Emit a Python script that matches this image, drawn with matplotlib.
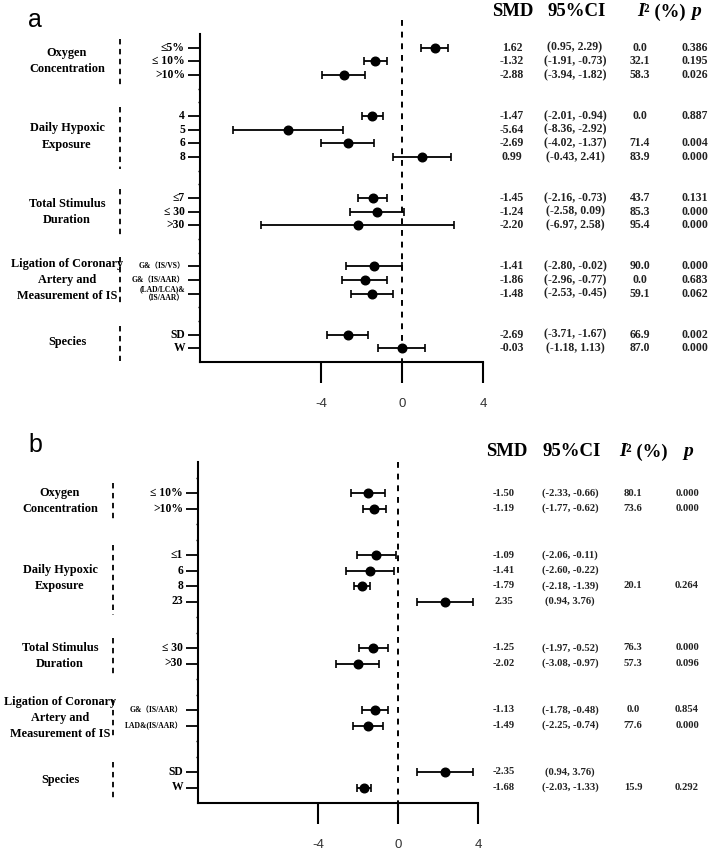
import numpy as np
import matplotlib
matplotlib.use("Agg")
import matplotlib.pyplot as plt
import matplotlib.transforms as mtransforms

# ---- panel a data ----
groups_a = ["Oxygen\nConcentration", "Daily Hypoxic\nExposure", "Total Stimulus\nDuration",
            "Ligation of Coronary\nArtery and\nMeasurement of IS", "Species"]
sizes_a = [3, 4, 3, 3, 2]
labels_a = ["≤5%", "≤ 10%", ">10%", "4", "5", "6", "8", "≤7", "≤ 30", ">30",
            "G&（IS/VS）", "G&（IS/AAR）", "(LAD/LCA)&\n（IS/AAR）", "SD", "W"]
smd_a = [1.62, -1.32, -2.88, -1.47, -5.64, -2.69, 0.99, -1.45, -1.24, -2.20,
         -1.41, -1.86, -1.48, -2.69, -0.03]
lo_a = [0.95, -1.91, -3.94, -2.01, -8.36, -4.02, -0.43, -2.16, -2.58, -6.97,
        -2.80, -2.96, -2.53, -3.71, -1.18]
hi_a = [2.29, -0.73, -1.82, -0.94, -2.92, -1.37, 2.41, -0.73, 0.09, 2.58,
        -0.02, -0.77, -0.45, -1.67, 1.13]
smd_txt_a = ["1.62", "-1.32", "-2.88", "-1.47", "-5.64", "-2.69", "0.99", "-1.45", "-1.24", "-2.20",
             "-1.41", "-1.86", "-1.48", "-2.69", "-0.03"]
i2_a = ["0.0", "32.1", "58.3", "0.0", "", "71.4", "83.9", "43.7", "85.3", "95.4",
        "90.0", "0.0", "59.1", "66.9", "87.0"]
p_a = ["0.386", "0.195", "0.026", "0.887", "", "0.004", "0.000", "0.131", "0.000", "0.000",
       "0.000", "0.683", "0.062", "0.002", "0.000"]

# ---- panel b data ----
groups_b = ["Oxygen\nConcentration", "Daily Hypoxic\nExposure", "Total Stimulus\nDuration",
            "Ligation of Coronary\nArtery and\nMeasurement of IS", "Species"]
sizes_b = [2, 4, 2, 2, 2]
labels_b = ["≤ 10%", ">10%", "≤1", "6", "8", "23", "≤ 30", ">30",
            "G&（IS/AAR）", "LAD&(IS/AAR）", "SD", "W"]
smd_b = [-1.50, -1.19, -1.09, -1.41, -1.79, 2.35, -1.25, -2.02, -1.13, -1.49, 2.35, -1.68]
lo_b = [-2.33, -1.77, -2.06, -2.60, -2.18, 0.94, -1.97, -3.08, -1.78, -2.25, 0.94, -2.03]
hi_b = [-0.66, -0.62, -0.11, -0.22, -1.39, 3.76, -0.52, -0.97, -0.48, -0.74, 3.76, -1.33]
smd_txt_b = ["-1.50", "-1.19", "-1.09", "-1.41", "-1.79", "2.35", "-1.25", "-2.02",
             "-1.13", "-1.49", "-2.35", "-1.68"]
i2_b = ["80.1", "73.6", "", "", "20.1", "", "76.3", "57.3", "0.0", "77.6", "", "15.9"]
p_b = ["0.000", "0.000", "", "", "0.264", "", "0.000", "0.096", "0.854", "0.000", "", "0.292"]

xticks = [-4, 0, 4]

W, H = 709, 851
SERIF = ["Liberation Serif", "Noto Sans CJK SC", "DejaVu Serif"]
SANS = ["Liberation Sans", "DejaVu Sans"]

fig = plt.figure(figsize=(W / 100, H / 100), dpi=100)


def fx(x):
    return x / W


def fy(y):
    return 1 - y / H


def rows_for(sizes, gap=2):
    rows, starts, pos = [], [], 0
    for s in sizes:
        starts.append(pos)
        rows.extend(range(pos, pos + s))
        pos += s + gap
    return np.array(rows), starts


def panel(rect, ylim, groups, sizes, labels, smd, lo, hi, smd_txt, i2, pv,
          xs, header_y, letter, letter_y, small_labels, vsize):
    ax = fig.add_axes(rect)
    rows, starts = rows_for(sizes)
    smd = np.array(smd)
    lo = np.array(lo)
    hi = np.array(hi)
    ax.errorbar(smd, rows, xerr=[smd - lo, hi - smd], fmt="o", color="black",
                ms=6.2, capsize=2.8, elinewidth=1.3, capthick=1.2)
    ax.plot([0, 0], [ylim[1] - (1 if ylim[1] == -1 else 0), ylim[0]], ls=(0, (3, 3)),
            color="black", lw=1.4, clip_on=False)
    ax.set_xlim(-10, 4)
    ax.set_ylim(*ylim)
    for s in ["top", "right"]:
        ax.spines[s].set_visible(False)
    for s in ["left", "bottom"]:
        ax.spines[s].set_linewidth(1.5)
    ax.set_xticks(xticks)
    ax.set_xticklabels([str(t) for t in xticks], family=SANS, fontsize=9.5, color="#333333")
    ax.tick_params(axis="x", length=15, width=1.5, pad=11)
    ax.set_yticks(rows)
    ax.set_yticklabels([])
    gaps = [r for r in range(int(ylim[1]) + 1, int(ylim[0])) if r not in rows]
    ax.set_yticks(gaps, minor=True)
    ax.tick_params(axis="y", which="major", length=8.5, width=1.3)
    ax.tick_params(axis="y", which="minor", length=1.5, width=1)

    tr = mtransforms.blended_transform_factory(fig.transFigure, ax.transData)
    for r, lab in zip(rows, labels):
        small = lab in small_labels
        ax.text(fx(xs["row"]), r, lab, transform=tr, ha="right", va="center",
                family=SERIF, fontweight="bold", fontsize=5.5 if small else 8.4,
                linespacing=1.2)
    for g, s, n in zip(groups, starts, sizes):
        ax.text(fx(xs["group"]), s + (n - 1) / 2, g, transform=tr, ha="center", va="center",
                family=SERIF, fontweight="bold", fontsize=8.8, linespacing=1.45)
        ax.plot([fx(xs["sep"])] * 2, [s - 0.65, s + n - 1 + 0.9], transform=tr,
                color="black", lw=1.3, ls=(0, (3, 2.5)), clip_on=False)
    for r, a, b, c, d, e in zip(rows, smd_txt, lo, hi, i2, pv):
        kw = dict(transform=tr, ha="center", va="center", family=SERIF,
                  fontweight="bold", fontsize=vsize, color="#222222")
        ax.text(fx(xs["smd"]), r, a, **kw)
        ax.text(fx(xs["ci"]), r, f"({b:.2f}, {c:.2f})", **kw)
        ax.text(fx(xs["i2"]), r, d, **kw)
        ax.text(fx(xs["p"]), r, e, **kw)

    hk = dict(ha="center", va="center", family=SERIF, fontweight="bold", fontsize=13.5)
    fig.text(fx(xs["hsmd"]), fy(header_y), "SMD", **hk)
    fig.text(fx(xs["hci"]), fy(header_y), "95%CI", **hk)
    fig.text(fx(xs["hi2"]), fy(header_y), "I", ha="right", va="center", family=SERIF,
             fontweight="bold", style="italic", fontsize=13.5)
    fig.text(fx(xs["hi2"]), fy(header_y), "² (%)", ha="left", va="center", family=SERIF,
             fontweight="bold", fontsize=13.5)
    fig.text(fx(xs["hp"]), fy(header_y), "p", ha="center", va="center", family=SERIF,
             fontweight="bold", style="italic", fontsize=14)
    fig.text(fx(35), fy(letter_y), letter, ha="center", va="center", family=SANS, fontsize=18)
    return ax


xs_a = dict(group=67, sep=120, row=185, smd=512, ci=575, i2=640, p=695,
            hsmd=513, hci=577, hi2=644, hp=696)
xs_b = dict(group=60, sep=113, row=183, smd=504, ci=570, i2=633, p=687,
            hsmd=507, hci=572, hi2=626, hp=688)

panel([fx(200), fy(362), 283 / W, 328 / H], (23, -1), groups_a, sizes_a, labels_a,
      smd_a, lo_a, hi_a, smd_txt_a, i2_a, p_a, xs_a, 12, "a", 20,
      ["G&（IS/VS）", "G&（IS/AAR）", "(LAD/LCA)&\n（IS/AAR）"], 8.5)
panel([fx(198), fy(803), 280 / W, 341 / H], (20, -2), groups_b, sizes_b, labels_b,
      smd_b, lo_b, hi_b, smd_txt_b, i2_b, p_b, xs_b, 452, "b", 445,
      ["G&（IS/AAR）", "LAD&(IS/AAR）"], 7.7)

fig.savefig("out.png", dpi=100)
